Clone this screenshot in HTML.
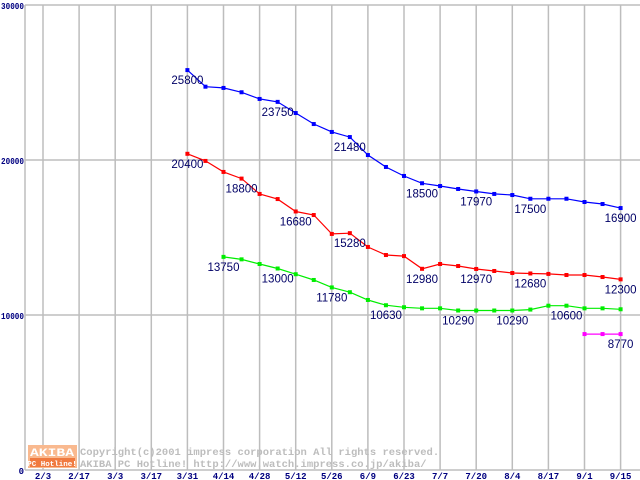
<!DOCTYPE html>
<html><head><meta charset="utf-8"><style>
body{margin:0;background:#fff;}
svg{display:block;font-family:"Liberation Mono","DejaVu Sans Mono",monospace;}
</style></head><body>
<svg width="640" height="480" viewBox="0 0 640 480" xmlns="http://www.w3.org/2000/svg">
<g stroke="#bdbdbd" stroke-width="1.5">
<line x1="25" x2="640" y1="5" y2="5"/>
<line x1="25" x2="640" y1="160" y2="160"/>
<line x1="25" x2="640" y1="315" y2="315"/>
<line x1="25" x2="640" y1="470" y2="470"/>
<line x1="25" x2="25" y1="5" y2="470"/>
</g>
<g font-size="9" font-weight="bold" fill="#000080">
<text x="1" y="9" textLength="23" lengthAdjust="spacingAndGlyphs">30000</text>
<text x="1" y="164" textLength="23" lengthAdjust="spacingAndGlyphs">20000</text>
<text x="1" y="319" textLength="23" lengthAdjust="spacingAndGlyphs">10000</text>
<text x="24" y="474" text-anchor="end">0</text>
</g>
<g id="xgrid"></g>
<g>
<rect x="28" y="445" width="49" height="23" fill="#f9b98f"/>
<text x="52" y="456" font-size="11" fill="#fff" text-anchor="middle" font-weight="bold" textLength="44" lengthAdjust="spacingAndGlyphs">AKIBA</text>
<rect x="30" y="458" width="45" height="9" fill="#f07a40"/>
<text x="52" y="466" font-size="7.5" fill="#fff" text-anchor="middle" font-weight="bold">PC Hotline!</text>
<text x="80" y="455" font-size="10.5" fill="#bdbdbd" font-weight="bold">Copyright(c)2001 impress corporation All rights reserved.</text>
<text x="80" y="467" font-size="10.5" fill="#bdbdbd" font-weight="bold">AKIBA PC Hotline!  http://www.watch.impress.co.jp/akiba/</text>
</g>
<g id="plotseries"></g>
</svg>
<script>
const dates=["2/3","2/17","3/3","3/17","3/31","4/14","4/28","5/12","5/26","6/9","6/23","7/7","7/20","8/4","8/17","9/1","9/15"];
const blueStart=8;
const blueValues=[25800,24730,24650,24370,23940,23750,23030,22320,21810,21480,20320,19550,18970,18500,18320,18130,17970,17810,17740,17500,17500,17500,17290,17160,16900];
const blueLabels=[0,5,9,13,16,19,24];
const redStart=8;
const redValues=[20400,19940,19230,18800,17810,17480,16680,16450,15230,15280,14390,13870,13800,12980,13290,13160,12970,12840,12710,12680,12650,12580,12580,12450,12300];
const redLabels=[0,3,6,9,13,16,19,24];
const greenStart=10;
const greenValues=[13750,13590,13290,13000,12630,12260,11780,11470,10970,10630,10500,10430,10430,10290,10290,10290,10290,10350,10600,10600,10430,10430,10370];
const greenLabels=[0,3,6,9,13,16,19];
const magentaStart=30;
const magentaValues=[8770,8770,8770];
const magentaLabels=[2];

const SVGNS="http://www.w3.org/2000/svg";
function px(i){return 43+18.05*i;}
function py(v){return 470-v*0.0155;}
const xg=document.getElementById('xgrid');
const sg=document.getElementById('plotseries');
function mk(tag,attrs,parent){const e=document.createElementNS(SVGNS,tag);for(const k in attrs)e.setAttribute(k,String(attrs[k]));parent.appendChild(e);return e;}
dates.forEach(function(d,i){
  const l=mk('line',{x1:px(2*i),x2:px(2*i),y1:5,y2:470,stroke:'#bdbdbd','stroke-width':1.5},xg);
  
  
  const t=mk('text',{x:px(2*i),y:479,'font-size':9,'font-weight':'bold',fill:'#000080','text-anchor':'middle'},xg);
  t.textContent=d;
  
  
});
function drawSeries(start,vals,labels,color,name){
  const g=mk('g',{},sg);
  
  
  const pts=vals.map(function(v,i){return px(start+i).toFixed(1)+','+py(v).toFixed(1);}).join(' ');
  const pl=mk('polyline',{points:pts,fill:'none',stroke:color,'stroke-width':1.2},g);
  
  
  vals.forEach(function(v,i){
    const r=mk('rect',{x:px(start+i)-2,y:py(v)-2,width:4,height:4,fill:color},g);
    
    
  });
  labels.forEach(function(i){
    const t=mk('text',{x:px(start+i),y:py(vals[i])+14,'font-size':11.5,fill:'#000066','text-anchor':'middle','font-family':'"Liberation Sans",sans-serif'},g);
    t.textContent=String(vals[i]);
    
    
  });
}
try{drawSeries(blueStart,blueValues,blueLabels,'#0000ff','blue-series');}catch(e){}
try{drawSeries(redStart,redValues,redLabels,'#ff0000','red-series');}catch(e){}
try{drawSeries(greenStart,greenValues,greenLabels,'#00ee00','green-series');}catch(e){}
try{drawSeries(magentaStart,magentaValues,magentaLabels,'#ff00ff','magenta-series');}catch(e){}
</script>
</body></html>
